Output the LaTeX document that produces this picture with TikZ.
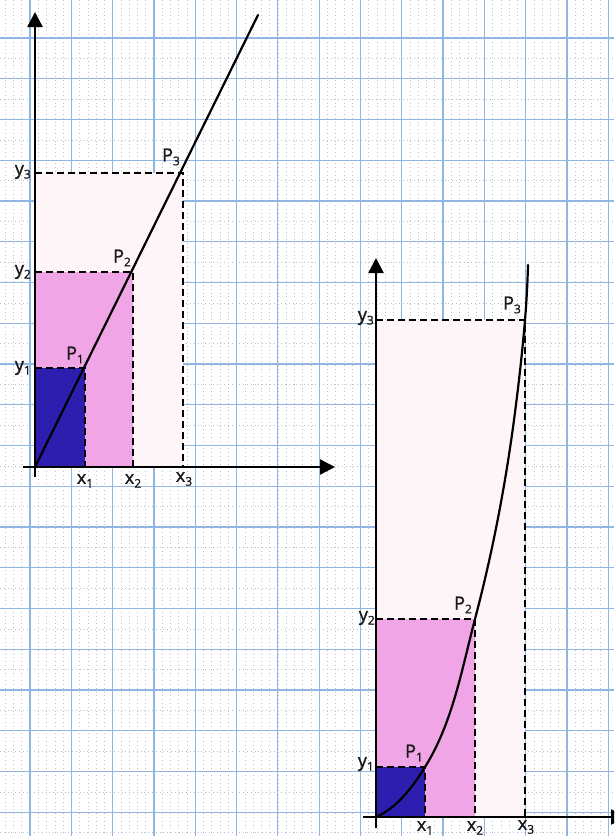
\documentclass[tikz,border=0pt]{standalone}
\usepackage{fontspec}
\setmainfont{Open Sans}
\newfontfamily\lblfont{Open Sans}[FakeBold=1.2]
\usetikzlibrary{arrows.meta}
\definecolor{gridblue}{RGB}{145,182,225}
\definecolor{gridminor}{RGB}{185,192,208}
\definecolor{darkblue}{RGB}{45,30,175}
\definecolor{pinkfill}{RGB}{240,165,230}
\definecolor{palepink}{RGB}{254,245,248}
\newcommand\sbs[1]{\raisebox{-0.4ex}{\fontsize{12}{13}\selectfont #1}}
\begin{document}
\begin{tikzpicture}[x=1pt,y=-1pt,
  axis/.style={line width=2.3pt, -{Triangle[length=15pt,width=15pt]}},
  dashline/.style={line width=2pt, dash pattern=on 7pt off 4pt},
  curve/.style={line width=2.2pt, line cap=round},
  lbl/.style={font=\lblfont\fontsize{18}{20}\selectfont, inner sep=0pt, text=black!90},
  gridmaj/.style={draw=gridblue, line width=1.2pt},
  gridmin/.style={draw=gridminor, line width=0.5pt, dash pattern=on 0.8pt off 3pt}]
\useasboundingbox (0,0) rectangle (614,836);
\clip (0,0) rectangle (614,836);
\fill[white] (0,0) rectangle (614,836);
% graph paper
\foreach \i in {0,...,76} \draw[gridmin] ({30+8.26*(\i-4)},0) -- ++(0,836);
\foreach \i in {0,...,19} \draw[gridmin] (0,{38+40.75*\i+20.4}) -- ++(614,0);
\foreach \i in {0,...,14} \draw[gridmaj] ({30+41.3*\i},0) -- ++(0,836);
\foreach \i in {0,...,19} \draw[gridmaj] (0,{38+40.75*\i}) -- ++(614,0);

% ---------- left plot ----------
\coordinate (O1) at (35,467);
\coordinate (X1a) at (85,467);
\coordinate (X2a) at (133,467);
\coordinate (X3a) at (183,467);
\coordinate (Y1a) at (35,368);
\coordinate (Y2a) at (35,272);
\coordinate (Y3a) at (35,173);
\coordinate (P1a) at (85,368);
\coordinate (P2a) at (133,272);
\coordinate (P3a) at (183,173);
\coordinate (E1) at (258,15);
\coordinate (XS1) at (23,467);
\coordinate (XE1) at (335,467);
\coordinate (YS1) at (35,477);
\coordinate (YE1) at (35,12);

\fill[palepink] (O1) rectangle (P3a);
\fill[pinkfill] (O1) rectangle (P2a);
\fill[darkblue] (O1) rectangle (P1a);

\draw[dashline] (Y1a) -- (P1a) -- (X1a);
\draw[dashline] (Y2a) -- (P2a) -- (X2a);
\draw[dashline] (Y3a) -- (P3a) -- (X3a);

\draw[axis] (XS1) -- (XE1);
\draw[axis] (YS1) -- (YE1);
\draw[curve] (O1) -- (E1);

\node[lbl, anchor=east] (ly1a) at (31,368) {y\sbs{1}};
\node[lbl, anchor=east] (ly2a) at (31,272) {y\sbs{2}};
\node[lbl, anchor=east] (ly3a) at (31,172) {y\sbs{3}};
\node[lbl] (lP1a) at (75,355) {P\sbs{1}};
\node[lbl] (lP2a) at (122,258) {P\sbs{2}};
\node[lbl] (lP3a) at (171,157) {P\sbs{3}};
\node[lbl, anchor=north] (lx1a) at (85,474) {x\sbs{1}};
\node[lbl, anchor=north] (lx2a) at (133,474) {x\sbs{2}};
\node[lbl, anchor=north] (lx3a) at (184,472) {x\sbs{3}};

% ---------- right plot ----------
\coordinate (O2) at (376,817);
\coordinate (X1b) at (425,817);
\coordinate (X2b) at (475,817);
\coordinate (X3b) at (525,817);
\coordinate (Y1b) at (376,767);
\coordinate (Y2b) at (376,619);
\coordinate (Y3b) at (376,320);
\coordinate (P1b) at (425,767);
\coordinate (P2b) at (475,619);
\coordinate (P3b) at (525,320);
\coordinate (M2) at (514,420);
\coordinate (E2) at (528,265);
\coordinate (XS2) at (363,817);
\coordinate (XE2) at (626,817);
\coordinate (YS2) at (376,828);
\coordinate (YE2) at (376,258);

\fill[palepink] (O2) rectangle (P3b);
\fill[pinkfill] (O2) rectangle (P2b);
\fill[darkblue] (O2) rectangle (P1b);

\draw[dashline] (Y1b) -- (P1b) -- (X1b);
\draw[dashline] (Y2b) -- (P2b) -- (X2b);
\draw[dashline] (Y3b) -- (P3b) -- (X3b);

\draw[axis] (XS2) -- (XE2);
\draw[axis] (YS2) -- (YE2);
\draw[curve] (O2) .. controls (397,808) and (413,786.5) .. (P1b)
  .. controls (452.6,722.9) and (461.8,669.3) .. (P2b)
  .. controls (492.3,553.2) and (505,487.4) .. (M2)
  .. controls (518.4,386.8) and (522.2,353.4) .. (P3b)
  .. controls (526.5,302) and (527.5,283) .. (E2);

\node[lbl, anchor=east] (ly1b) at (374,764) {y\sbs{1}};
\node[lbl, anchor=east] (ly2b) at (375,618) {y\sbs{2}};
\node[lbl, anchor=east] (ly3b) at (374,318) {y\sbs{3}};
\node[lbl] (lP1b) at (414,753) {P\sbs{1}};
\node[lbl] (lP2b) at (463,605) {P\sbs{2}};
\node[lbl] (lP3b) at (512,305) {P\sbs{3}};
\node[lbl, anchor=north] (lx1b) at (425,821) {x\sbs{1}};
\node[lbl, anchor=north] (lx2b) at (475,821) {x\sbs{2}};
\node[lbl, anchor=north] (lx3b) at (526,820) {x\sbs{3}};
\end{tikzpicture}
\end{document}
